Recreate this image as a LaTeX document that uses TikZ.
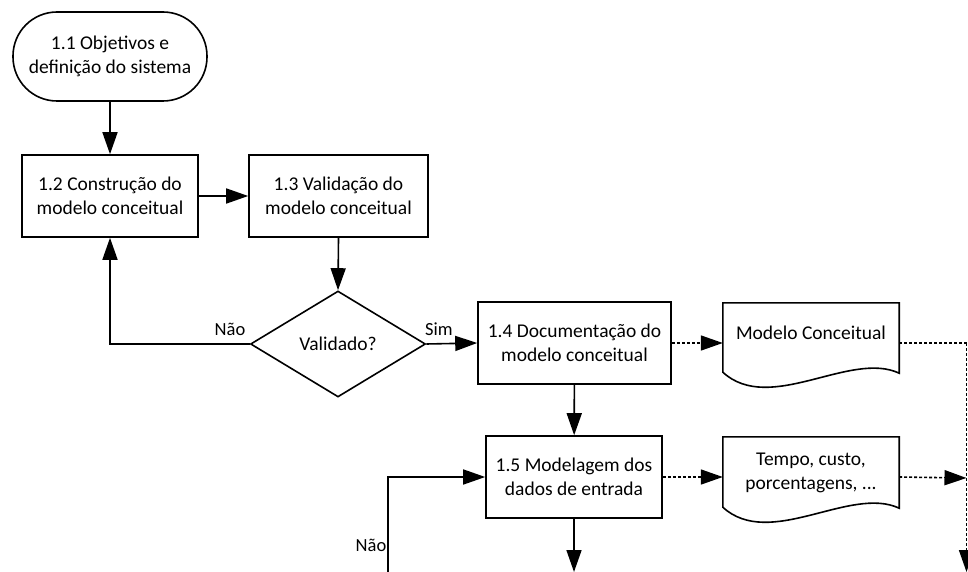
\documentclass[tikz,border=0pt]{standalone}
\usepackage{fontspec}
\setmainfont{Carlito}
\usetikzlibrary{shapes.geometric,arrows.meta,calc}
\begin{document}
\begin{tikzpicture}[x=1pt,y=-1pt,
  every node/.style={font=\fontsize{19.5}{24}\selectfont, align=center, inner sep=0pt},
  proc/.style={draw, line width=1.6pt, minimum width=176pt, minimum height=82pt},
  term/.style={draw, line width=1.6pt, rounded corners=44pt, minimum width=194pt, minimum height=89pt},
  decis/.style={draw, diamond, line width=1.6pt, minimum width=175pt, minimum height=106pt},
  docbox/.style={minimum width=176pt},
  lbl/.style={font=\fontsize{18.5}{22}\selectfont},
  flow/.style={line width=1.6pt, -{Triangle[length=22pt,width=15pt]}},
  dotflow/.style={line width=1.6pt, dash pattern=on 3pt off 2pt, -{Triangle[length=22pt,width=15pt]}},
  dotline/.style={line width=1.6pt, dash pattern=on 3pt off 2pt},
  docline/.style={line width=1.6pt, line join=miter}
]
\useasboundingbox (0,0) rectangle (968,572);

\node[term] (t11) at (110,56.5) {1.1 Objetivos e\\definição do sistema};
\node[proc] (b12) at (110,196) {1.2 Construção do\\modelo conceitual};
\node[proc, minimum width=179pt] (b13) at (338.5,196) {1.3 Validação do\\modelo conceitual};
\node[decis] (dec) at (338,344) {Validado?};
\node[proc, minimum width=193pt] (b14) at (574.5,343) {1.4 Documentação do\\modelo conceitual};
\node[proc] (b15) at (574,477) {1.5 Modelagem dos\\dados de entrada};

% documents
\node[docbox, minimum height=80pt] (doc1) at (811,343) {};
\draw[docline] (doc1.north west) -- (doc1.north east) -- ($(doc1.south east)+(0,-10)$)
  .. controls ($(doc1.south east)+(-49,-33)$) and ($(doc1.south west)+(47,32)$) .. ($(doc1.south west)+(0,-11)$) -- cycle;
\node (doc1t) at (811,333) {Modelo Conceitual};

\node[docbox, minimum height=81pt] (doc2) at (811,477.5) {};
\draw[docline] (doc2.north west) -- (doc2.north east) -- ($(doc2.south east)+(0,-10)$)
  .. controls ($(doc2.south east)+(-49,-33)$) and ($(doc2.south west)+(47,32)$) .. ($(doc2.south west)+(0,-11)$) -- cycle;
\node (doc2t) at (811,473) {Tempo, custo,\\porcentagens, ...};

% coordinates
\coordinate (rtop) at (966.5,343);
\coordinate (rmid) at (966.5,478);
\coordinate (rbot) at (966.5,572);
\coordinate (b15out) at (574,572);
\coordinate (lbot) at (388,572);

% connectors
\draw[flow] (t11) -- (b12);
\draw[flow] (b12) -- (b13);
\draw[flow] (b13.south) -- (dec.north);
\draw[flow] (dec.west) -| (b12.south);
\draw[flow] (dec.east) -- (b14.west);
\draw[flow] (b14) -- (b15);
\draw[dotflow] (b14.east) -- (doc1.west);
\draw[dotflow] (b15.east) -- (b15.east -| doc2.west);
\draw[dotline] (doc1.east) -- (rtop);
\draw[dotflow] (rtop) -- (rbot);
\draw[dotflow] (b15.east -| doc2.east) -- (rmid);
\draw[flow] (b15.south) -- (b15out);
\draw[flow] (lbot) |- (b15.west);

% labels
\node[lbl] (lnao1) at (230,329) {Não};
\node[lbl] (lsim) at (439,329) {Sim};
\node[lbl] (lnao2) at (371,545) {Não};
\end{tikzpicture}
\end{document}
